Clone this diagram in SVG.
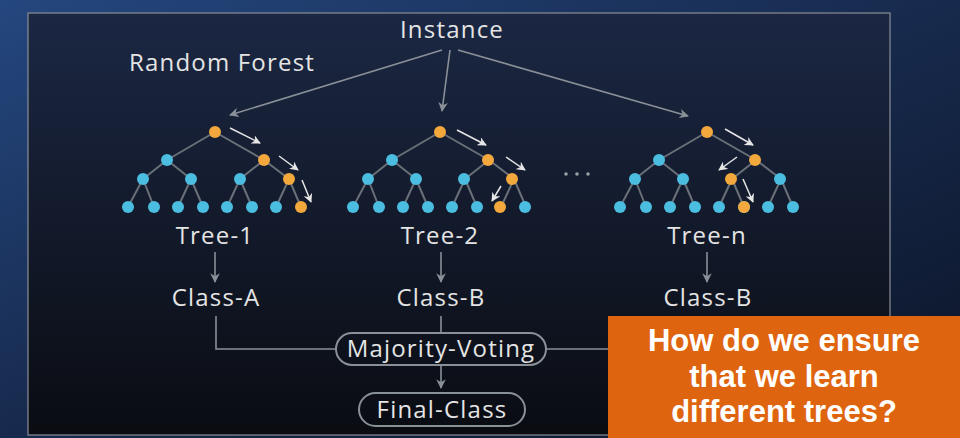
<svg xmlns="http://www.w3.org/2000/svg" width="960" height="438" viewBox="0 0 960 438">
<defs>
<linearGradient id="bg" x1="0" y1="0" x2="1" y2="1"><stop offset="0" stop-color="#24477f"/><stop offset="0.5" stop-color="#172a4d"/><stop offset="1" stop-color="#0c1426"/></linearGradient>
<linearGradient id="panel" x1="0" y1="0" x2="0" y2="1"><stop offset="0" stop-color="#1b2743"/><stop offset="1" stop-color="#0a0c12"/></linearGradient>
<marker id="ah" viewBox="0 0 10 10" refX="9" refY="5" markerWidth="6" markerHeight="6" orient="auto"><path d="M0,0 L10,5 L0,10 L3,5 Z" fill="#8a9098"/></marker>
<marker id="aw" viewBox="0 0 10 10" refX="9" refY="5" markerWidth="6" markerHeight="6" orient="auto"><path d="M0,0 L10,5 L0,10 L3,5 Z" fill="#e6e6e6"/></marker>
<g id="tree">
<g stroke="#6a7078" stroke-width="2">
<path d="M0,0 L-48,28 M0,0 L49,28 M-48,28 L-72,47 M-48,28 L-24,47 M49,28 L25,47 M49,28 L74,47 M-72,47 L-87,75 M-72,47 L-61,75 M-24,47 L-37,75 M-24,47 L-12,75 M25,47 L12,75 M25,47 L37,75 M74,47 L61,75 M74,47 L86,75"/>
</g>
<g fill="#4bbde0">
<circle cx="-48" cy="28" r="6"/><circle cx="-72" cy="47" r="6"/><circle cx="-24" cy="47" r="6"/>
<circle cx="-87" cy="75" r="6"/><circle cx="-61" cy="75" r="6"/><circle cx="-37" cy="75" r="6"/><circle cx="-12" cy="75" r="6"/>
<circle cx="12" cy="75" r="6"/><circle cx="37" cy="75" r="6"/>
</g>
</g>
</defs>
<style>
.t{font-family:"Open Sans","Liberation Sans",sans-serif;fill:#e4e4e4;font-size:24px;letter-spacing:1.2px}
.c{stroke:#8a9098;stroke-width:1.6;fill:none}
.w{stroke:#e6e6e6;stroke-width:1.5;fill:none}
.pill{fill:none;stroke:#8a9098;stroke-width:2}
</style>
<rect width="960" height="438" fill="url(#bg)"/>
<rect x="28" y="13" width="862" height="422" fill="url(#panel)" stroke="#8a8f96" stroke-width="1.2"/>

<g id="labels">
<text class="t" x="452" y="38" text-anchor="middle">Instance</text>
<text class="t" x="222" y="71" text-anchor="middle">Random Forest</text>
</g>

<g id="connectors">
<path class="c" d="M442,50 L230,115" marker-end="url(#ah)"/>
<path class="c" d="M450,50 L442,111" marker-end="url(#ah)"/>
<path class="c" d="M458,50 L688,116" marker-end="url(#ah)"/>
<path class="c" d="M215,252 L215,282" marker-end="url(#ah)"/>
<path class="c" d="M441,252 L441,282" marker-end="url(#ah)"/>
<path class="c" d="M707,252 L707,282" marker-end="url(#ah)"/>
<path class="c" d="M216,316 L216,349 L336,349"/>
<path class="c" d="M441,316 L441,332"/>
<path class="c" d="M546,349 L610,349"/>
<path class="c" d="M441,366 L441,388" marker-end="url(#ah)"/>
</g>

<g id="tree1">
<use href="#tree" transform="translate(215,132)"/>
<g fill="#4bbde0"><circle cx="240" cy="179" r="6"/><circle cx="276" cy="207" r="6"/></g>
<g fill="#f2a83c"><circle cx="215" cy="132" r="6"/><circle cx="264" cy="160" r="6"/><circle cx="289" cy="179" r="6"/><circle cx="301" cy="207" r="6"/></g>
<path class="w" d="M230,128 L260,143" marker-end="url(#aw)"/>
<path class="w" d="M279,156 L298,170" marker-end="url(#aw)"/>
<path class="w" d="M302,180 L311,202" marker-end="url(#aw)"/>
<text class="t" x="215" y="244" text-anchor="middle">Tree-1</text>
</g>

<g id="tree2">
<use href="#tree" transform="translate(440,132)"/>
<g fill="#4bbde0"><circle cx="464" cy="179" r="6"/><circle cx="525" cy="207" r="6"/></g>
<g fill="#f2a83c"><circle cx="440" cy="132" r="6"/><circle cx="488" cy="160" r="6"/><circle cx="512" cy="179" r="6"/><circle cx="500" cy="207" r="6"/></g>
<path class="w" d="M457,130 L486,145" marker-end="url(#aw)"/>
<path class="w" d="M506,157 L525,170" marker-end="url(#aw)"/>
<path class="w" d="M501,186 L492,201" marker-end="url(#aw)"/>
<text class="t" x="440" y="244" text-anchor="middle">Tree-2</text>
</g>

<g id="dots" fill="#9aa0a8"><circle cx="566" cy="174" r="1.8"/><circle cx="577" cy="174" r="1.8"/><circle cx="588" cy="174" r="1.8"/></g>

<g id="treen">
<use href="#tree" transform="translate(707,132)"/>
<g fill="#4bbde0"><circle cx="780" cy="179" r="6"/><circle cx="768" cy="207" r="6"/><circle cx="793" cy="207" r="6"/></g>
<g fill="#f2a83c"><circle cx="707" cy="132" r="6"/><circle cx="755" cy="160" r="6"/><circle cx="731" cy="179" r="6"/><circle cx="744" cy="207" r="6"/></g>
<path class="w" d="M725,129 L753,145" marker-end="url(#aw)"/>
<path class="w" d="M737,157 L719,170" marker-end="url(#aw)"/>
<path class="w" d="M743,179 L753,202" marker-end="url(#aw)"/>
<text class="t" x="707" y="244" text-anchor="middle">Tree-n</text>
</g>

<g id="classA"><text class="t" x="216" y="306" text-anchor="middle">Class-A</text></g>
<g id="classB1"><text class="t" x="441" y="306" text-anchor="middle">Class-B</text></g>
<g id="classB2"><text class="t" x="708" y="306" text-anchor="middle">Class-B</text></g>
<g id="voting"><rect class="pill" x="336" y="333" width="210" height="32" rx="16"/><text class="t" x="441" y="357" text-anchor="middle">Majority-Voting</text></g>
<g id="final"><rect class="pill" x="359" y="393" width="166" height="33" rx="16.5"/><text class="t" x="442" y="418" text-anchor="middle">Final-Class</text></g>

<g id="callout">
<rect x="608" y="316" width="352" height="122" fill="#df640f"/>
<g font-family="Liberation Sans,Arial,sans-serif" font-weight="bold" font-size="31" fill="#ffffff" text-anchor="middle">
<text x="784" y="351">How do we ensure</text>
<text x="784" y="387">that we learn</text>
<text x="784" y="422">different trees?</text>
</g>
</g>
</svg>
